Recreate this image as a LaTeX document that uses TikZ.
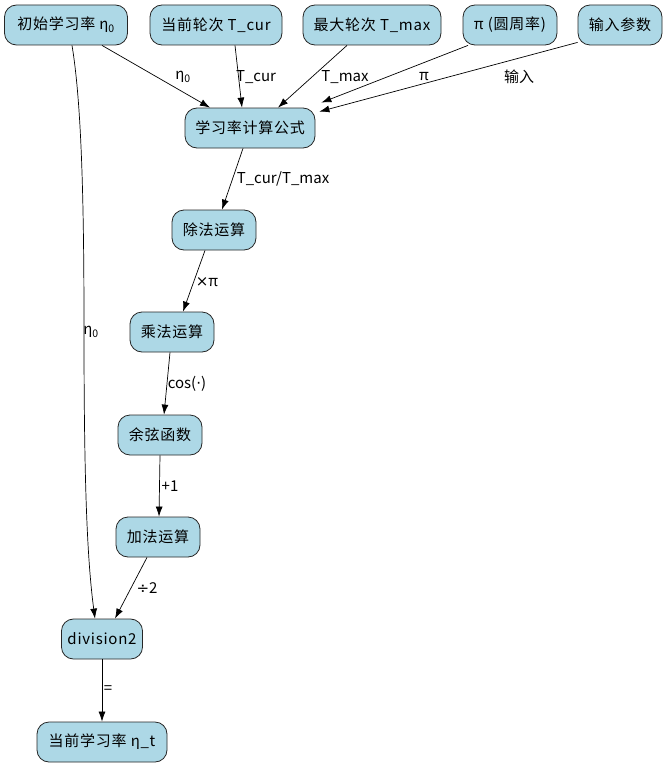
\documentclass[tikz,border=0pt]{standalone}
\usepackage{fontspec}
\setmainfont{Noto Sans CJK SC}
\newfontfamily\dotfont{DejaVu Sans}
\usepackage{xcolor}
\usetikzlibrary{arrows.meta, positioning}
\definecolor{boxblue}{HTML}{ADD8E6}
\tikzset{
  % box style
  fbox/.style={
    draw=black!85,
    line width=0.8pt,
    fill=boxblue,
    rounded corners=12pt,
    minimum height=40pt,
    inner xsep=6pt,
    font=\fontsize{15}{17}\selectfont\addfontfeature{LetterSpace=5}
  },
  % Graph arrow style
  garr/.style={
    line width=0.7pt,
    -{Latex[length=10pt,width=7pt]}
  },
  % edge label style
  lbl/.style={inner sep=1pt, font=\fontsize{15}{17}\selectfont},
}

\begin{document}
\begin{tikzpicture}[x=1pt,y=-1pt]
  \useasboundingbox (0,0) rectangle (667,768);

  % inputs
  \node[fbox, minimum width=123pt] (eta0)  at (66,25)  {初始学习率 η\textsubscript{0}};
  \node[fbox, minimum width=132pt] (tcur)  at (216,25) {当前轮次 T\_cur};
  \node[fbox, minimum width=138pt] (tmax)  at (372,25) {最大轮次 T\_max};
  \node[fbox, minimum width=94pt]  (pi)    at (510,25) {π (圆周率)};
  \node[fbox, minimum width=84pt]  (input) at (620,25) {输入参数};

  % chain
  \node[fbox, minimum width=130pt] (formula) at (250,128) {学习率计算公式};
  \node[fbox, minimum width=84pt]  (divop)   at (214,230) {除法运算};
  \node[fbox, minimum width=84pt]  (mulop)   at (172,332) {乘法运算};
  \node[fbox, minimum width=84pt]  (cosfn)   at (160,435) {余弦函数};
  \node[fbox, minimum width=84pt]  (addop)   at (158,537) {加法运算};
  \node[fbox, minimum width=78pt]  (div2)    at (102,639) {division2};
  \node[fbox, minimum width=130pt] (etat)    at (102,742) {当前学习率 η\_t};

  \coordinate (etabend) at (84,330);

  \draw[garr] ([xshift=36pt]eta0.south) -- ([xshift=-40pt]formula.north);
  \draw[garr] ([xshift=19pt]tcur.south) -- ([xshift=-8pt]formula.north);
  \draw[garr] ([xshift=-25pt]tmax.south) -- ([xshift=28pt]formula.north);
  \draw[garr] ([xshift=-42pt]pi.south) -- ([xshift=6pt,yshift=5pt]formula.north east);
  \draw[garr] ([yshift=3pt]input.south west) -- ([xshift=4pt,yshift=-4pt]formula.north east);

  \draw[garr] ([xshift=-7pt]formula.south) -- ([xshift=8pt]divop.north);
  \draw[garr] ([xshift=-9pt]divop.south) -- ([xshift=11pt]mulop.north);
  \draw[garr] ([xshift=-2pt]mulop.south) -- ([xshift=4pt]cosfn.north);
  \draw[garr] (cosfn.south) -- ([xshift=1pt]addop.north);
  \draw[garr] ([xshift=-11pt]addop.south) -- ([xshift=13pt]div2.north);
  \draw[garr] (div2.south) -- (etat.north);

  % long eta0 edge
  \draw[garr] ([xshift=6pt]eta0.south) .. controls +(10,60) and +(0,-120) .. (etabend)
     .. controls +(0,150) and +(-8,-60) .. ([xshift=-7pt]div2.north);

  % edge labels
  \node[lbl] (l-eta0)  at (183,77)  {η\textsubscript{0}};
  \node[lbl] (l-tcur)  at (256,77)  {T\_cur};
  \node[lbl] (l-tmax)  at (345,77)  {T\_max};
  \node[lbl] (l-pi)    at (424,77)  {π};
  \node[lbl] (l-input) at (519,77)  {输入};
  \node[lbl] (l-ratio) at (283,179) {T\_cur/T\_max};
  \node[lbl] (l-mul)   at (207,282) {{\dotfont ×}π};
  \node[lbl] (l-cos)   at (187,384) {cos({\dotfont ·})};
  \node[lbl] (l-add)   at (170,486) {+1};
  \node[lbl] (l-half)  at (147,588) {{\dotfont ÷}2};
  \node[lbl] (l-eq)    at (108,690) {=};
  \node[lbl] (l-long)  at (91,332)  {η\textsubscript{0}};
\end{tikzpicture}
\end{document}
